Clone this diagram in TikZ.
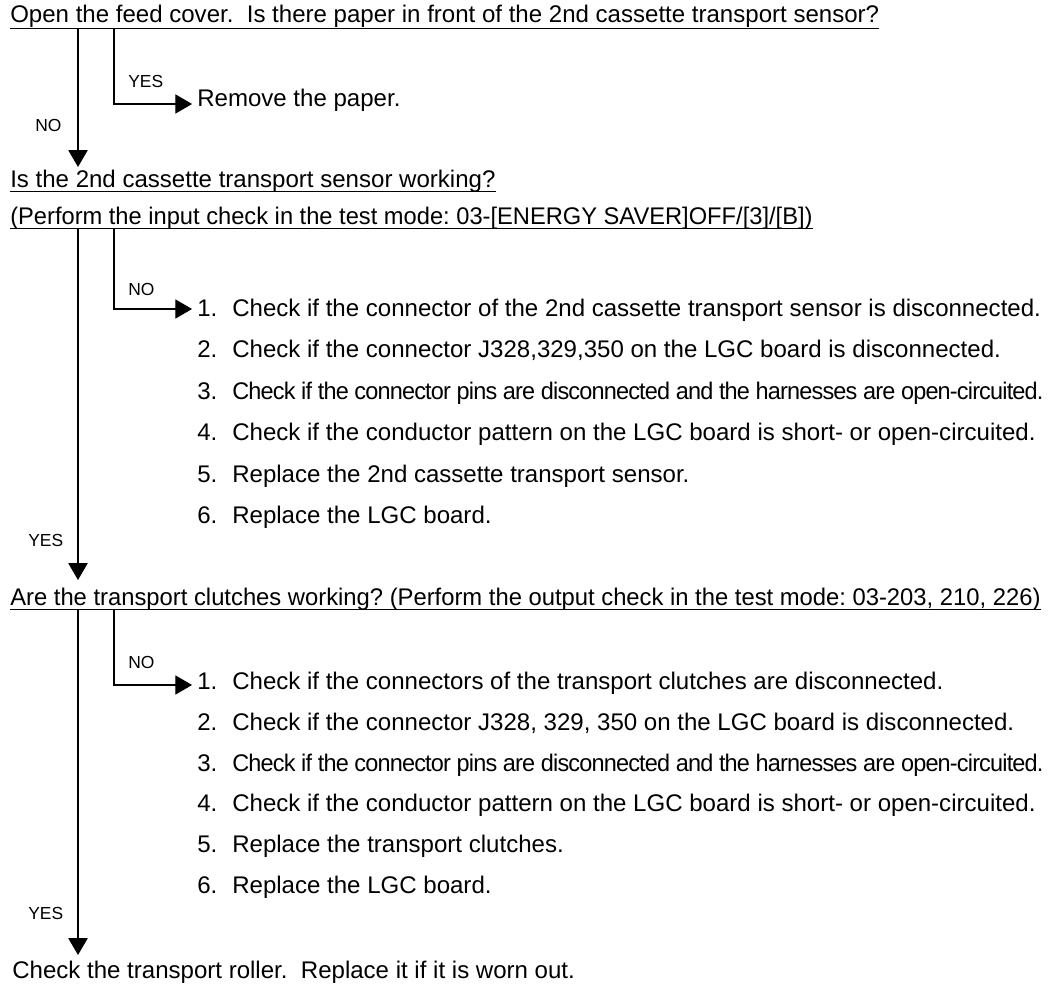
\documentclass[tikz,border=0pt]{standalone}
\usepackage{fontspec}
\setmainfont{Liberation Sans}
\usepackage{graphicx}
\usetikzlibrary{arrows.meta,calc}
\frenchspacing
\tikzset{
  txt/.style={inner sep=0pt,anchor=base west,font=\fontsize{17.1}{20}\selectfont},
  lbl/.style={inner sep=0pt,anchor=base west,font=\fontsize{12.4}{15}\selectfont},
  flow/.style={line width=0.85pt,-{Triangle[length=0.42cm,width=0.48cm]}},
  uline/.style={line width=0.7pt},
}
% numbered step: number in a fixed box, then the text
\newcommand{\stepitem}[2]{\makebox[0.875cm][l]{#1}#2}
% tightly set line (long step 3)
\newcommand{\tightline}[2]{\resizebox{#1}{\height}{\addfontfeatures{LetterSpace=-3.5}#2}}

\begin{document}
\begin{tikzpicture}[x=0.025cm,y=-0.025cm]
  \useasboundingbox (0,0) rectangle (1052,985);

  % questions
  \node[txt] (q1) at (10,23) {Open the feed cover.~~Is there paper in front of the 2nd cassette transport sensor?};
  \node[txt] (q2) at (10,188) {Is the 2nd cassette transport sensor working?};
  \node[txt] (q2b) at (10,225) {\resizebox{20.05cm}{\height}{(Perform the input check in the test mode: 03-[ENERGY SAVER]OFF/[3]/[B])}};
  \node[txt] (q3) at (10,605) {\resizebox{25.75cm}{\height}{Are the transport clutches working? (Perform the output check in the test mode: 03-203, 210, 226)}};
  \node[txt] (fin) at (12,978) {Check the transport roller.~~Replace it if it is worn out.};

  \draw[uline] ($(q1.base west)+(0,5)$) -- ($(q1.base east)+(0,5)$);
  \draw[uline] ($(q2.base west)+(0,3)$) -- ($(q2.base east)+(0,3)$);
  \draw[uline] ($(q2b.base west)+(0,3)$) -- ($(q2b.base east)+(0,3)$);
  \draw[uline] ($(q3.base west)+(0,4)$) -- ($(q3.base east)+(0,4)$);

  % actions
  \node[txt] (rm) at (197,107) {Remove the paper.};

  \node[txt] (s11) at (197,316) {\stepitem{1.}{Check if the connector of the 2nd cassette transport sensor is disconnected.}};
  \node[txt] (s12) at (197,357) {\stepitem{2.}{Check if the connector J328,329,350 on the LGC board is disconnected.}};
  \node[txt] (s13) at (197,399) {\stepitem{3.}{\tightline{20.275cm}{Check if the connector pins are disconnected and the harnesses are open-circuited.}}};
  \node[txt] (s14) at (197,440) {\stepitem{4.}{Check if the conductor pattern on the LGC board is short- or open-circuited.}};
  \node[txt] (s15) at (197,482) {\stepitem{5.}{Replace the 2nd cassette transport sensor.}};
  \node[txt] (s16) at (197,523) {\stepitem{6.}{Replace the LGC board.}};

  \node[txt] (s21) at (197,689) {\stepitem{1.}{Check if the connectors of the transport clutches are disconnected.}};
  \node[txt] (s22) at (197,730) {\stepitem{2.}{Check if the connector J328, 329, 350 on the LGC board is disconnected.}};
  \node[txt] (s23) at (197,771) {\stepitem{3.}{\tightline{20.275cm}{Check if the connector pins are disconnected and the harnesses are open-circuited.}}};
  \node[txt] (s24) at (197,811) {\stepitem{4.}{Check if the conductor pattern on the LGC board is short- or open-circuited.}};
  \node[txt] (s25) at (197,852) {\stepitem{5.}{Replace the transport clutches.}};
  \node[txt] (s26) at (197,893) {\stepitem{6.}{Replace the LGC board.}};

  % branch labels
  \node[lbl] (yes1) at (128,88) {YES};
  \node[lbl] (no1) at (35,132) {NO};
  \node[lbl] (no2) at (128,295) {NO};
  \node[lbl] (yes2) at (28,546) {YES};
  \node[lbl] (no3) at (128,668) {NO};
  \node[lbl] (yes3) at (28,919) {YES};

  % main flow
  \draw[flow] ($(q1.base west)+(68,5)$) -- ($(q2.base west)+(68,-21)$);
  \draw[flow] ($(q2b.base west)+(68,3)$) -- ($(q3.base west)+(68,-25)$);
  \draw[flow] ($(q3.base west)+(68,4)$) -- ($(fin.base west)+(66,-23)$);

  % side branches
  \draw[flow,shorten >=3.5pt] ($(q1.base west)+(104,5)$) |- ($(rm.base west)+(0,-3)$);
  \draw[flow,shorten >=3.5pt] ($(q2b.base west)+(104,3)$) |- ($(s11.base west)+(0,-7)$);
  \draw[flow,shorten >=3.5pt] ($(q3.base west)+(104,4)$) |- ($(s21.base west)+(0,-4)$);
\end{tikzpicture}
\end{document}
